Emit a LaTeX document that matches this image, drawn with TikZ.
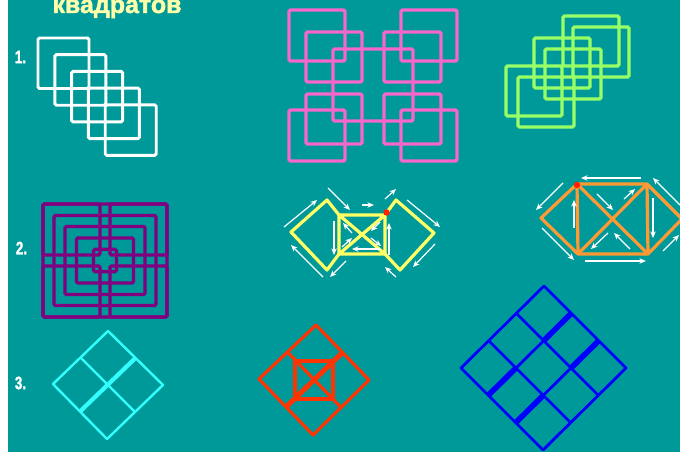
\documentclass[tikz,border=0pt]{standalone}
\usepackage{fontspec}
\setmainfont{Liberation Sans}[BoldFeatures={FakeBold=1.6}]
\usetikzlibrary{arrows.meta,calc}
\definecolor{sea}{HTML}{009999}
\definecolor{cream}{HTML}{FFFFAA}
\definecolor{rose}{HTML}{F766CC}
\definecolor{lime}{HTML}{99FF66}
\definecolor{plum}{HTML}{800080}
\definecolor{lemon}{HTML}{FFFF66}
\definecolor{amber}{HTML}{FF9933}
\definecolor{aqua}{HTML}{33FFFF}
\definecolor{flame}{HTML}{FF3300}
\definecolor{dot}{HTML}{FF2200}
\tikzset{
  sq/.style={line width=3.2pt, rounded corners=1.5pt},
  stick/.style={line width=3.2pt, line join=round},
  fat/.style={line width=5.6pt},
  mv/.style={white, line width=1.2pt, -{Stealth[length=6.5pt,width=5.5pt]}},
  num/.style={white, inner sep=0pt, font=\bfseries\fontsize{18}{18}\selectfont}
}
\begin{document}
\begin{tikzpicture}[x=1pt, y=-1pt]
    \useasboundingbox (0,0) rectangle (680,452);
    \clip (0,0) rectangle (680,452);
    % Background
    \fill[white] (0,0) rectangle (8,452);
    \fill[sea] (8,0) rectangle (680,452);
    % Title and numbers
    \node[cream, anchor=base, inner sep=0pt, font=\bfseries\fontsize{25}{25}\selectfont] (ttl) at (117,13) {квадратов};
    \node[num] (n1) at (20.5,57) {\scalebox{0.75}[1]{1.}};
    \node[num] (n2) at (21.5,248) {\scalebox{0.75}[1]{2.}};
    \node[num] (n3) at (20.5,383) {\scalebox{0.75}[1]{3.}};
    % Row 1: white staircase
    \foreach \i in {0,...,4}
        \draw[sq, white, line width=2.9pt] ({38+16.8*\i},{38+16.7*\i}) rectangle +(51,50.5);
    % Row 1: pink cross of squares
    \foreach \x/\y/\w/\h in {289/10/56/51, 306/32/56/50, 401/10/56/51, 384/32/57/50,
        333/49/80/72, 306/94/56/50, 289/110/56/51, 384/94/57/50, 401/110/56/51}
        \draw[sq, rose] (\x,\y) rectangle +(\w,\h);
    % Row 1: green squares
    \foreach \x/\y in {563/16, 573/27, 534/38, 545/49, 506/66, 518/77}
        \draw[sq, lime] (\x,\y) rectangle +(56,50);
    % Row 2: purple nested squares
    \foreach \x/\y in {43/204, 110/204, 43/266, 110/266}
        \draw[sq, plum] (\x,\y) rectangle +(57,51);
    \foreach \a/\b in {62/56.5, 51/45, 40/34, 28.5/22.5, 11.5/11.2}
        \draw[sq, plum] ({105-\a},{260.5-\b}) rectangle ({105+\a},{260.5+\b});
    % Row 2: yellow sticks
    \coordinate (ya) at (339,215);
    \coordinate (yb) at (385,215);
    \coordinate (yc) at (385,254);
    \coordinate (yd) at (339,254);
    \draw[stick, lemon] (ya) -- (yb) -- (yc) -- (yd) -- cycle (ya) -- (yc) (yb) -- (yd);
    \draw[stick, lemon] (ya) -- (327,200) -- (291,232) -- (327,270) -- (yd);
    \draw[stick, lemon] (yb) -- (396,200) -- (434,233) -- (400,270) -- (yc);
    \fill[dot] (386.5,212.5) circle (3.2);
    \foreach \ax/\ay/\bx/\by in {284/227/317/200, 328/188/350/210, 362/205/374/205, 385/199/396/189,
        407/200/440/227, 435/244/413/267, 396/277/385/267, 346/261/330/277, 323/277/291/245,
        334/221/334/255, 352/233/343/223, 342/247/352/238, 380/249/352/249, 389/255/389/223,
        380/222/371/231, 371/238/381/246}
        \draw[mv] (\ax,\ay) -- (\bx,\by);
    % Row 2: orange sticks
    \coordinate (oa) at (577,184);
    \coordinate (ob) at (647,184);
    \coordinate (oc) at (648,254);
    \coordinate (od) at (578,254);
    \draw[stick, amber] (oa) -- (ob) -- (682,219) -- (oc) -- (od) -- (541,218) -- cycle;
    \draw[stick, amber] (oa) -- (od) (ob) -- (oc) (oa) -- (oc) (ob) -- (od);
    \fill[dot] (577,185) circle (3.2);
    \foreach \ax/\ay/\bx/\by in {641/178/581/178, 563/183/536/210, 542/228/574/260, 585/261/646/261,
        680/205/653/178, 663/251/679/235, 574/228/574/200, 597/194/613/210, 624/199/635/189,
        653/198/653/238, 608/233/591/249, 630/249/614/233}
        \draw[mv] (\ax,\ay) -- (\bx,\by);
    % Row 3: cyan diamond
    \coordinate (ct) at (108,331);
    \coordinate (cr) at (163,385);
    \coordinate (cb) at (107,439);
    \coordinate (cl) at (53,384);
    \draw[aqua, line width=2.4pt, line join=round] (ct) -- (cr) -- (cb) -- (cl) -- cycle;
    \draw[aqua, line width=2.4pt] ($(ct)!.5!(cl)$) -- ($(cr)!.5!(cb)$);
    \draw[aqua, line width=4.2pt] ($(ct)!.5!(cr)$) -- ($(cl)!.5!(cb)$);
    % Row 3: red diamond
    \coordinate (rt) at (316,325);
    \coordinate (rr) at (369,380);
    \coordinate (rb) at (313,435);
    \coordinate (rl) at (259,379);
    \draw[stick, flame] (rt) -- (rr) -- (rb) -- (rl) -- cycle;
    \draw[stick, flame] (295,361) rectangle (333,399);
    \draw[stick, flame] ($(rt)!.5!(rl)$) -- ($(rr)!.5!(rb)$);
    \draw[flame, line width=5pt] ($(rt)!.5!(rr)$) -- ($(rl)!.5!(rb)$);
    % Row 3: blue diamond
    \draw[blue, line width=2.8pt, line join=round] (544,286) -- (626,368) -- (543,450) -- (461,368) -- cycle;
    \foreach \k in {1,2} {
        \draw[blue, line width=2.8pt] ({544+\k*82/3},{286+\k*82/3}) -- ++(-83,82);
        \draw[blue, line width=2.8pt] ({544-\k*83/3},{286+\k*82/3}) -- ++(82,82);
    }
    \draw[blue, fat] (571.3,313.3) -- (543.7,340.7) (516,368) -- (488.3,395.3)
        (598.7,340.7) -- (571,368) (543.3,395.3) -- (515.7,422.7);
\end{tikzpicture}
\end{document}
